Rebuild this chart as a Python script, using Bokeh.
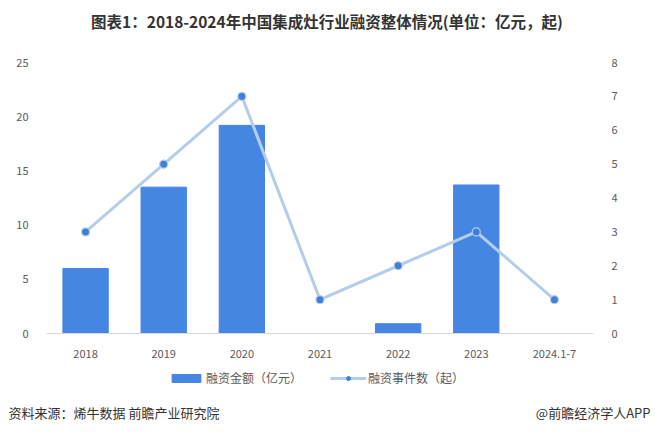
import numpy as np
from bokeh.plotting import figure
from bokeh.models import Range1d, LinearAxis, Legend, LegendItem, FactorRange
from bokeh.layouts import column
from bokeh.core.properties import value
from bokeh.embed import file_html
from bokeh.resources import INLINE

categories = ["2018", "2019", "2020", "2021", "2022", "2023", "2024.1-7"]
amount = [6.0, 13.5, 19.2, 0.0, 0.9, 13.7, 0.0]
events = [3, 5, 7, 1, 2, 3, 1]
title_text = "图表1：2018-2024年中国集成灶行业融资整体情况(单位：亿元，起)"
source_text = "资料来源：烯牛数据 前瞻产业研究院"
brand_text = "@前瞻经济学人APP"
series_names = ["融资金额（亿元）", "融资事件数（起）"]

FONT = "Noto Sans CJK SC"
BAR = "#4586E3"
LINE = "#B3CEEC"
DOT = "#3F7FD9"
TXT = "#595959"

W = 655
H_T, H_M, H_F = 40, 320, 74


def blank(h):
    f = figure(width=W, height=h, x_range=Range1d(0, W), y_range=Range1d(0, h),
               output_backend="svg", toolbar_location=None, min_border=0, frame_align=False)
    f.axis.visible = False
    f.grid.visible = False
    f.outline_line_color = None
    return f


top = blank(H_T)
top.text(x=[W / 2 - 1], y=[H_T - 20], text=[title_text], text_font=value(FONT),
         text_font_style="bold", text_font_size="15.5px", text_color="#333333",
         text_align="center", text_baseline="middle")

p = figure(width=W, height=H_M, x_range=FactorRange(*categories), y_range=Range1d(0, 25),
           output_backend="svg", toolbar_location=None, frame_align=False,
           min_border_left=46, min_border_right=62, min_border_top=22, min_border_bottom=27)
p.outline_line_color = None
p.grid.visible = False
p.extra_y_ranges = {"cnt": Range1d(0, 8)}

p.vbar(x=categories, top=amount, width=0.58, color=BAR)
p.line(x=categories, y=events, y_range_name="cnt", line_color=LINE, line_width=3)
p.scatter(x=categories, y=events, y_range_name="cnt", size=8, fill_color=DOT,
          line_color=LINE, line_width=1.2)

p.yaxis[0].ticker = [0, 5, 10, 15, 20, 25]
ra = LinearAxis(y_range_name="cnt", ticker=list(range(9)))
p.add_layout(ra, "right")

for ax in p.yaxis:
    ax.axis_line_color = None
    ax.major_tick_line_color = None
    ax.minor_tick_line_color = None
    ax.major_label_text_color = TXT
    ax.major_label_text_font = FONT
    ax.major_label_text_font_size = "11px"
    ax.major_label_standoff = 12
p.xaxis.axis_line_color = "#D9D9D9"
p.xaxis.major_tick_line_color = None
p.xaxis.minor_tick_line_color = None
p.xaxis.major_label_text_color = TXT
p.xaxis.major_label_text_font = FONT
p.xaxis.major_label_text_font_size = "11px"
p.xaxis.major_label_standoff = 10

# bottom strip: legend + footer; legend keys are style-only proxies (NaN data, nothing drawn)
foot = blank(H_F)
nan = np.array([np.nan])
kb = foot.vbar(x=nan, top=nan, width=1, color=BAR)
kl = foot.line(x=nan, y=nan, line_color=LINE, line_width=3)
ks = foot.scatter(x=nan, y=nan, size=7, fill_color=DOT, line_color=DOT)
legend = Legend(items=[LegendItem(label=series_names[0], renderers=[kb]),
                       LegendItem(label=series_names[1], renderers=[kl, ks])],
                orientation="horizontal", location=(168, H_F - 26),
                label_text_font=FONT, label_text_font_size="12px", label_text_color=TXT,
                border_line_color=None, background_fill_alpha=0, spacing=28,
                glyph_width=36, glyph_height=10, label_standoff=2, padding=0, margin=0)
foot.add_layout(legend)
foot.text(x=[8], y=[H_F - 52], text=[source_text], text_font=value(FONT),
          text_font_size="13px", text_color="#333333", text_align="left", text_baseline="middle")
foot.text(x=[W - 5], y=[H_F - 52], text=[brand_text], text_font=value(FONT),
          text_font_size="13px", text_color="#333333", text_align="right", text_baseline="middle")

layout = column(top, p, foot, spacing=0)
open("out.html", "w").write(file_html(layout, INLINE))
